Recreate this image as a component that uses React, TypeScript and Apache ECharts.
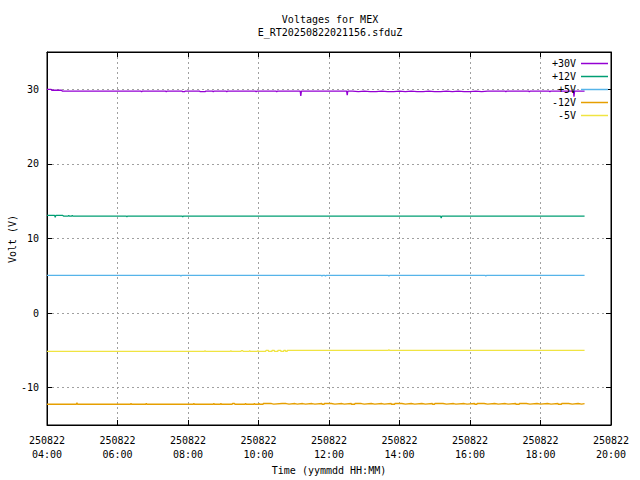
import React, { useEffect, useRef } from "react";
import * as echarts from "echarts";

const titleLines = ["Voltages for MEX", "E_RT20250822021156.sfduZ"];
const xName = "Time (yymmdd HH:MM)";
const yName = "Volt (V)";
const datePrefix = "250822";
const yTicks = [-10, 0, 10, 20, 30];
const seriesNames = ["+30V", "+12V", "+5V", "-12V", "-5V"];
const seriesColors = ["#9400d3", "#009e73", "#56b4e9", "#e69f00", "#f0e442"];

const plus30: [string, number][] = [
  ["04:00", 30.0], ["04:07", 30.0], ["04:08", 29.87], ["04:25", 29.87], ["04:26", 29.75],
  ["06:40", 29.75], ["06:41", 29.68], ["06:42", 29.75],
  ["07:22", 29.75], ["07:23", 29.68], ["07:24", 29.75],
  ["07:50", 29.75], ["07:51", 29.68], ["07:54", 29.68], ["07:55", 29.75],
  ["08:20", 29.75], ["08:21", 29.68], ["08:29", 29.68], ["08:30", 29.75],
  ["08:42", 29.75], ["08:43", 29.68], ["08:44", 29.75],
  ["09:05", 29.75], ["09:06", 29.68], ["09:07", 29.75],
  ["09:55", 29.75], ["09:56", 29.68], ["09:57", 29.75],
  ["10:30", 29.75], ["10:31", 29.68], ["10:32", 29.75],
  ["11:11", 29.75], ["11:12", 29.1], ["11:13", 29.75],
  ["12:30", 29.75], ["12:31", 29.2], ["12:32", 29.75],
  ["12:40", 29.68], ["12:50", 29.75], ["13:00", 29.68], ["13:10", 29.68], ["13:20", 29.75],
  ["13:30", 29.68], ["13:40", 29.68], ["13:50", 29.75], ["14:00", 29.68], ["14:10", 29.75],
  ["14:20", 29.68], ["14:30", 29.68], ["14:40", 29.75], ["14:50", 29.68], ["15:00", 29.68],
  ["15:10", 29.75], ["15:20", 29.68], ["15:30", 29.75], ["15:40", 29.68], ["15:50", 29.68],
  ["16:00", 29.75], ["16:10", 29.68], ["16:20", 29.75], ["16:30", 29.75],
  ["17:00", 29.75], ["17:01", 29.68], ["17:02", 29.75],
  ["17:40", 29.75], ["17:41", 29.68], ["17:42", 29.75],
  ["18:15", 29.75], ["18:16", 29.68], ["18:17", 29.75],
  ["18:56", 29.75], ["18:57", 29.0], ["18:58", 29.75], ["19:15", 29.75],
];

const plus12: [string, number][] = [
  ["04:00", 13.1], ["04:13", 13.1], ["04:14", 12.85], ["04:15", 13.1], ["04:27", 13.1],
  ["04:28", 13.0], ["04:36", 13.0], ["04:37", 13.1], ["04:38", 13.0], ["04:42", 13.0],
  ["04:43", 13.1], ["04:44", 13.0], ["06:15", 13.0], ["06:16", 12.92], ["06:17", 13.0],
  ["07:50", 13.0], ["07:51", 12.88], ["07:52", 13.0], ["15:10", 13.0], ["15:11", 12.75],
  ["15:12", 13.0], ["19:15", 13.0],
];

const plus5: [string, number][] = [
  ["04:00", 5.05], ["07:47", 5.05], ["07:48", 4.97], ["07:49", 5.05],
  ["11:47", 5.05], ["11:48", 4.98], ["11:49", 5.05], ["11:53", 5.05], ["11:54", 4.98], ["11:55", 5.05],
  ["13:41", 5.05], ["13:42", 4.98], ["13:43", 5.05], ["16:26", 5.05], ["16:27", 4.98], ["16:28", 5.05],
  ["19:15", 5.05],
];

const minus12: [string, number][] = [
  ["04:00", -12.22], ["04:50", -12.22], ["04:51", -12.02], ["04:52", -12.22],
  ["06:22", -12.22], ["06:23", -12.12], ["06:24", -12.22], ["06:48", -12.22], ["06:49", -12.12], ["06:50", -12.22],
  ["08:09", -12.22], ["08:10", -12.12], ["08:11", -12.22], ["08:43", -12.22], ["08:44", -12.12], ["08:45", -12.22],
  ["08:55", -12.22], ["08:56", -12.12], ["08:57", -12.22], ["09:15", -12.22], ["09:16", -12.12], ["09:19", -12.12],
  ["09:20", -12.22], ["09:37", -12.22], ["09:38", -12.12], ["09:39", -12.22], ["09:52", -12.22], ["09:53", -12.12],
  ["09:54", -12.22], ["10:00", -12.22], ["10:01", -12.12], ["10:02", -12.22],
  ["10:08", -12.12], ["10:22", -12.2], ["10:26", -12.12], ["10:40", -12.12], ["10:47", -12.2], ["10:52", -12.12],
  ["11:02", -12.2], ["11:06", -12.12], ["11:15", -12.2], ["11:20", -12.12], ["11:31", -12.2], ["11:36", -12.12],
  ["11:48", -12.22], ["11:52", -12.12], ["12:04", -12.2], ["12:10", -12.12], ["12:22", -12.2], ["12:26", -12.12],
  ["12:38", -12.22], ["12:44", -12.12], ["12:55", -12.2], ["13:00", -12.12], ["13:12", -12.2], ["13:18", -12.12],
  ["13:30", -12.2], ["13:34", -12.12], ["13:46", -12.22], ["13:52", -12.12], ["14:04", -12.2], ["14:10", -12.12],
  ["14:20", -12.2], ["14:26", -12.12], ["14:38", -12.2], ["14:44", -12.12], ["14:56", -12.22], ["15:00", -12.12],
  ["15:14", -12.2], ["15:20", -12.12], ["15:32", -12.2], ["15:36", -12.12], ["15:50", -12.2], ["15:55", -12.12],
  ["16:08", -12.22], ["16:12", -12.12], ["16:24", -12.2], ["16:30", -12.12], ["16:42", -12.2], ["16:48", -12.12],
  ["17:00", -12.2], ["17:05", -12.12], ["17:18", -12.22], ["17:24", -12.12], ["17:36", -12.2], ["17:42", -12.12],
  ["17:54", -12.2], ["18:00", -12.12], ["18:12", -12.2], ["18:18", -12.12], ["18:30", -12.22], ["18:36", -12.12],
  ["18:48", -12.2], ["18:54", -12.12], ["19:04", -12.2], ["19:10", -12.12], ["19:15", -12.12],
];

const minus5: [string, number][] = [
  ["04:00", -5.12], ["08:28", -5.12], ["08:29", -5.02], ["08:30", -5.12], ["09:12", -5.12], ["09:13", -5.02],
  ["09:14", -5.12], ["09:30", -5.12], ["09:31", -5.02], ["09:33", -5.02], ["09:34", -5.12], ["09:44", -5.12],
  ["09:45", -5.02], ["09:46", -5.12], ["09:58", -5.12], ["09:59", -5.02], ["10:00", -5.12], ["10:12", -5.12],
  ["10:13", -4.99], ["10:17", -5.14], ["10:23", -4.99], ["10:27", -5.14], ["10:33", -4.99], ["10:38", -5.14],
  ["10:43", -4.99], ["10:46", -5.12], ["10:49", -4.99],
  ["13:41", -4.99], ["13:42", -4.93], ["13:43", -4.99], ["19:15", -4.99],
];

const allData = [plus30, plus12, plus5, minus12, minus5];

const toMin = (s: string) => {
  const [h, m] = s.split(":").map(Number);
  return h * 60 + m;
};

const FONT = "DejaVu Sans Mono";

export default function App() {
  const ref = useRef<HTMLDivElement>(null);
  useEffect(() => {
    if (!ref.current) return;
    const chart = echarts.init(ref.current, undefined, { renderer: "svg" });
    const axisLineStyle = { color: "#000", width: 1 };
    const textBase = { fontFamily: FONT, fontSize: 10, color: "#000" };
    chart.setOption({
      animation: false,
      backgroundColor: "#fff",
      title: {
        text: titleLines.join("\n"),
        left: 330,
        top: 13,
        padding: 0,
        textAlign: "center",
        textStyle: { ...textBase, fontWeight: "normal", lineHeight: 13 },
      },
      graphic: [
        {
          type: "text",
          x: 12,
          y: 239,
          rotation: Math.PI / 2,
          style: {
            text: yName,
            fill: "#000",
            font: `10px "${FONT}"`,
            textAlign: "center",
            textVerticalAlign: "middle",
          },
        },
      ],
      legend: {
        orient: "vertical",
        right: 32,
        top: 57,
        padding: 0,
        align: "right",
        icon: "rect",
        itemWidth: 27,
        itemHeight: 1.5,
        itemGap: 0,
        data: seriesNames,
        textStyle: { ...textBase, lineHeight: 13 },
      },
      grid: {
        left: 47,
        right: 29,
        top: 52,
        bottom: 55,
        outerBoundsMode: "none",
        containLabel: false,
        show: true,
        borderColor: "#000",
        borderWidth: 1,
        backgroundColor: "transparent",
      },
      xAxis: [
        {
          type: "value",
          min: 240,
          max: 1200,
          interval: 120,
          position: "bottom",
          name: xName,
          nameLocation: "middle",
          nameGap: 40,
          nameTextStyle: textBase,
          axisLine: { show: true, onZero: false, lineStyle: axisLineStyle },
          axisTick: { show: true, inside: true, length: 5, lineStyle: axisLineStyle },
          axisLabel: {
            ...textBase,
            lineHeight: 14,
            margin: 8,
            formatter: (v: number) =>
              `${datePrefix}\n${String(Math.round(v / 60)).padStart(2, "0")}:00`,
          },
          splitLine: { show: true, lineStyle: { color: "#a0a0a0", type: [2, 3], width: 1 } },
        },
        {
          type: "value",
          min: 240,
          max: 1200,
          interval: 120,
          position: "top",
          axisLine: { show: true, onZero: false, lineStyle: axisLineStyle },
          axisTick: { show: true, inside: true, length: 5, lineStyle: axisLineStyle },
          axisLabel: { show: false },
          splitLine: { show: false },
        },
      ],
      yAxis: [
        {
          type: "value",
          min: -15,
          max: 35,
          position: "left",
          axisLine: { show: true, onZero: false, lineStyle: axisLineStyle },
          axisTick: { show: true, inside: true, length: 5, lineStyle: axisLineStyle, customValues: yTicks },
          axisLabel: { ...textBase, margin: 8, customValues: yTicks },
          splitLine: { show: true, lineStyle: { color: "#a0a0a0", type: [2, 3], width: 1 } },
        },
        {
          type: "value",
          min: -15,
          max: 35,
          position: "right",
          axisLine: { show: true, onZero: false, lineStyle: axisLineStyle },
          axisTick: { show: true, inside: true, length: 5, lineStyle: axisLineStyle, customValues: yTicks },
          axisLabel: { show: false, customValues: yTicks },
          splitLine: { show: false },
        },
      ],
      series: seriesNames.map((name, i) => ({
        name,
        type: "line",
        xAxisIndex: 0,
        yAxisIndex: 0,
        step: "end",
        symbol: "none",
        showSymbol: false,
        color: seriesColors[i],
        lineStyle: { width: 1.3, color: seriesColors[i] },
        data: allData[i].map(([t, v]) => [toMin(t), v]),
      })),
    });
    return () => chart.dispose();
  }, []);
  return (
    <div
      ref={ref}
      style={{ position: "fixed", left: 0, top: 0, width: 640, height: 480 }}
    />
  );
}
